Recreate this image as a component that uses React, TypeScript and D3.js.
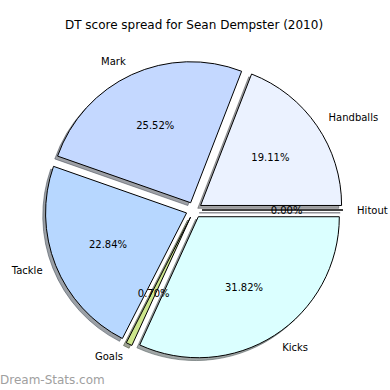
import React from "react";
import * as d3 from "d3";

const categories = ["Handballs", "Mark", "Tackle", "Goals", "Kicks", "Hitout"];
const values = [19.11, 25.52, 22.84, 0.7, 31.82, 0.0];
const colors = ["#ebf2ff", "#c4d8ff", "#b7d7ff", "#cde68c", "#dbffff", "#e0e0ff"];
const title = "DT score spread for Sean Dempster (2010)";
const watermark = "Dream-Stats.com";

const W = 390;
const H = 390;
const cx = 194;
const cy = 210;
const R = 141;
const EXPLODE = 8;
const SHADOW = 0.02 * R;

function shade(c: string) {
  const rgb = d3.rgb(c);
  return `rgba(${Math.round(rgb.r * 0.3)},${Math.round(rgb.g * 0.3)},${Math.round(rgb.b * 0.3)},0.5)`;
}

export default function App() {
  const pie = d3
    .pie<number>()
    .sort(null)
    .value((d) => d)
    .startAngle(Math.PI / 2)
    .endAngle(Math.PI / 2 - 2 * Math.PI);
  const arcs = pie(values);
  const arcGen = d3.arc<d3.PieArcDatum<number>>().innerRadius(0).outerRadius(R);

  const font = "DejaVu Sans, sans-serif";

  return (
    <svg
      width={W}
      height={H}
      style={{ position: "absolute", left: 0, top: 0, background: "#fff" }}
      fontFamily={font}
    >
      <rect width={W} height={H} fill="#fff" />
      <text x={cx} y={29} textAnchor="middle" fontSize={12} fill="#000">
        {title}
      </text>
      {arcs.map((a, i) => {
        const mid = (a.startAngle + a.endAngle) / 2;
        const dx = Math.sin(mid);
        const dy = -Math.cos(mid);
        const ox = cx + EXPLODE * dx;
        const oy = cy + EXPLODE * dy;
        const path = arcGen(a) || "";
        return (
          <g key={categories[i]}>
            <path
              d={path}
              transform={`translate(${ox - SHADOW},${oy + SHADOW})`}
              fill={shade(colors[i])}
              stroke={shade(colors[i])}
              strokeWidth={1}
            />
            <path
              d={path}
              transform={`translate(${ox},${oy})`}
              fill={colors[i]}
              stroke="#000"
              strokeWidth={1}
              strokeLinejoin="round"
            />
          </g>
        );
      })}
      {arcs.map((a, i) => {
        const mid = (a.startAngle + a.endAngle) / 2;
        const dx = Math.sin(mid);
        const dy = -Math.cos(mid);
        const lx = cx + (EXPLODE + 1.1 * R) * dx;
        const ly = cy + (EXPLODE + 1.1 * R) * dy;
        const px = cx + (EXPLODE + 0.6 * R) * dx;
        const py = cy + (EXPLODE + 0.6 * R) * dy;
        return (
          <g key={"t" + categories[i]}>
            <text
              x={lx}
              y={ly}
              textAnchor={dx < 0 ? "end" : "start"}
              dominantBaseline="central"
              fontSize={10}
              fill="#000"
            >
              {categories[i]}
            </text>
            <text
              x={px}
              y={py}
              textAnchor="middle"
              dominantBaseline="central"
              fontSize={10}
              fill="#000"
            >
              {values[i].toFixed(2) + "%"}
            </text>
          </g>
        );
      })}
      <text x={0} y={384} fontSize={12} fill="#a0a0a0">
        {watermark}
      </text>
    </svg>
  );
}
